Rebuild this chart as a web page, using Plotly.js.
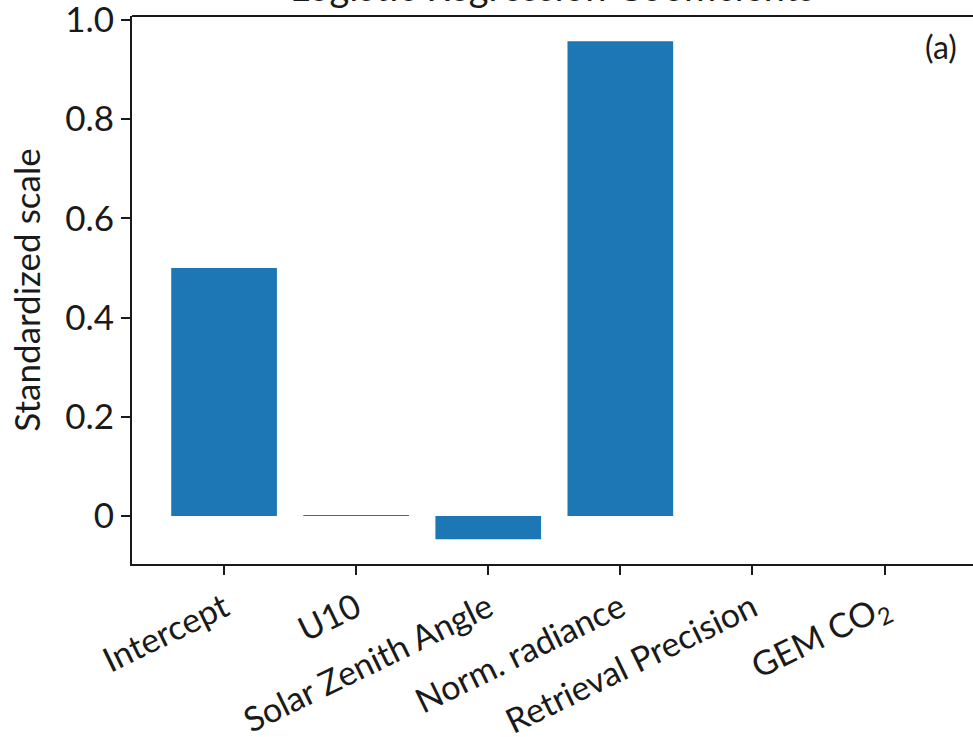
<!DOCTYPE html>
<html><head><meta charset="utf-8">
<script src="https://cdn.plot.ly/plotly-3.0.1.min.js"></script>
<style>html,body{margin:0;padding:0;background:#fff}#c{width:973px;height:737px}</style>
</head><body><div id="c"></div>
<script>
const categories = ["Intercept", "U10", "Solar Zenith Angle", "Norm. radiance", "Retrieval Precision", "GEM CO<sub>2</sub>"];
const coefficients = [0.5, 0.002, -0.047, 0.957, 0, 0];
const yTickVals = [0, 0.2, 0.4, 0.6, 0.8, 1.0];
const yTickText = ["0", "0.2", "0.4", "0.6", "0.8", "1.0"];
const chartTitle = 'Logistic Regression Coefficients';

const fontFam = "Lato, 'Open Sans', sans-serif";
const idx = categories.map((_, i) => i);
const trace = {
  type: 'bar', x: idx, y: coefficients, width: 0.8,
  marker: {color: '#1c77b4', line: {width: 0}}, hoverinfo: 'skip'
};
const layout = {
  width: 973, height: 737,
  margin: {l: 132, r: 0, t: 16, b: 173},
  paper_bgcolor: '#fff', plot_bgcolor: '#fff',
  font: {family: fontFam, color: '#1a1a1a', size: 34},
  showlegend: false,
  xaxis: {range: [-0.697, 5.67], tickmode: 'array', tickvals: idx, ticktext: categories,
          tickangle: -26, ticks: 'outside', ticklen: 9, tickwidth: 2, tickcolor: '#1a1a1a',
          showline: true, linewidth: 2, linecolor: '#1a1a1a', showgrid: false, zeroline: false,
          ticklabeloverflow: 'allow',
          tickfont: {size: 34, family: fontFam, color: '#1a1a1a'}},
  yaxis: {range: [-0.097, 1.008], tickmode: 'array', tickvals: yTickVals, ticktext: yTickText,
          ticks: 'outside', ticklen: 9, tickwidth: 2, tickcolor: '#1a1a1a',
          showline: true, linewidth: 2, linecolor: '#1a1a1a', showgrid: false, zeroline: false,
          ticklabeloverflow: 'allow',
          tickfont: {size: 35, family: fontFam, color: '#1a1a1a'},
          title: {text: 'Standardized scale', font: {size: 35, family: fontFam, color: '#1a1a1a'}, standoff: 14}},
  shapes: [{type: 'line', xref: 'paper', yref: 'paper', x0: 0, x1: 1, y0: 1, y1: 1,
            line: {color: '#1a1a1a', width: 2}}],
  annotations: [
    {text: chartTitle, xref: 'paper', yref: 'paper', x: 0.5, y: 1, xanchor: 'center', yanchor: 'middle',
     yshift: 30, showarrow: false, font: {size: 38, family: fontFam, color: '#1a1a1a'}},
    {text: '(a)', xref: 'paper', yref: 'paper', x: 0.983, y: 0.945, xanchor: 'right', yanchor: 'middle',
     showarrow: false, font: {size: 32, family: fontFam, color: '#1a1a1a'}}]
};
Plotly.newPlot('c', [trace], layout, {displayModeBar: false, staticPlot: true});
</script></body></html>
